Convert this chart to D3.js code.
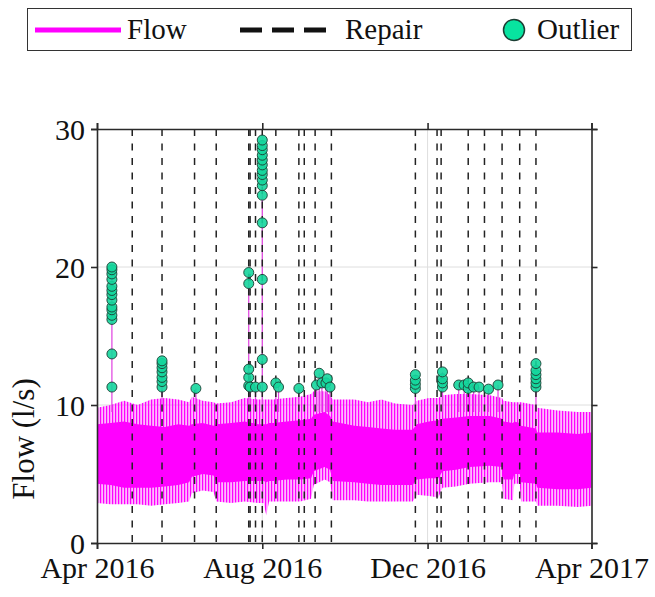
<!DOCTYPE html>
<html>
<head>
<meta charset="utf-8">
<script src="https://cdn.jsdelivr.net/npm/d3@7"></script>
<style>
  body { margin: 0; background: #fff; }
  text { font-family: "Liberation Serif", "Times New Roman", serif; fill: #111; }
</style>
</head>
<body>
<div id="chart"></div>
<script>
// flow envelope (l/s)
var flowDates = ["2016-04-01","2016-04-11","2016-04-21","2016-05-01","2016-05-11","2016-05-21","2016-05-31",
    "2016-06-08","2016-06-10","2016-06-18","2016-06-26","2016-06-28","2016-07-09","2016-07-19","2016-07-29",
    "2016-08-02","2016-08-04","2016-08-06","2016-08-09","2016-08-19","2016-08-29","2016-09-06","2016-09-08",
    "2016-09-16","2016-09-20","2016-09-22","2016-10-08","2016-10-18","2016-10-28","2016-11-07","2016-11-20",
    "2016-11-23","2016-12-02","2016-12-09","2016-12-12","2016-12-22","2017-01-01","2017-01-16","2017-01-25",
    "2017-01-26","2017-02-02","2017-02-03","2017-02-07","2017-02-08","2017-02-19","2017-02-20","2017-03-07",
    "2017-03-22","2017-04-01"];
var flowMin  = [2.9,2.8,2.8,2.8,2.7,2.8,2.9, 3.0,3.6,3.8,3.7,3.0,2.9,3.0,2.9, 2.9,2.0,3.0,3.0,3.0,3.0,3.2,4.2,
    4.6,4.4,3.1,3.1,3.0,3.0,3.0,3.0, 3.5,3.4,3.3,4.0,4.1,4.3,4.4,4.4, 3.2,3.1,4.3,4.3,3.0,3.0,2.7,2.7, 2.6,2.7];
var flowLow  = [4.3,4.2,4.0,4.0,4.0,4.1,4.2, 4.4,4.8,5.0,4.9,4.4,4.4,4.5,4.5, 4.5,4.4,4.5,4.5,4.6,4.6,4.7,5.2,
    5.5,5.3,4.5,4.4,4.3,4.2,4.2,4.2, 4.6,4.7,4.7,5.2,5.3,5.5,5.6,5.5, 4.6,4.6,5.0,5.0,4.4,4.3,4.0,3.9, 3.9,4.0];
var flowHigh = [8.6,8.7,8.8,8.6,8.5,8.4,8.6, 8.5,8.6,8.7,8.5,8.6,8.7,8.8,8.6, 8.6,8.6,8.7,8.7,8.8,8.9,9.0,9.3,
    9.5,9.2,8.8,8.5,8.4,8.3,8.2,8.2, 8.6,8.8,8.9,9.0,9.1,9.2,9.2,9.0, 8.8,8.7,8.8,8.7,8.5,8.3,8.0,8.0, 7.9,8.0];
var flowMax  = [9.8,10.0,10.3,10.0,10.4,10.5,10.4, 10.2,10.6,10.3,10.2,10.1,10.2,10.5,10.4, 10.4,10.4,10.4,10.4,10.5,10.6,10.8,11.0,
    11.0,10.7,10.4,10.4,10.2,10.4,10.1,10.0, 10.3,10.5,10.5,10.7,10.8,10.8,10.7,10.5, 10.3,10.2,10.2,10.2,10.2,10.0,9.8,9.6, 9.5,9.5];

var repairDates = ["2016-04-27","2016-05-19","2016-06-12","2016-06-28","2016-07-22","2016-07-23","2016-07-27",
    "2016-08-01","2016-08-11","2016-08-28","2016-09-01","2016-09-09","2016-09-21","2016-11-22","2016-12-08",
    "2016-12-11","2016-12-31","2017-01-12","2017-01-25","2017-02-07","2017-02-19"];

var outlierDates = [
    "2016-04-12","2016-04-12","2016-04-12","2016-04-12","2016-04-12","2016-04-12","2016-04-12",
    "2016-04-12","2016-04-12","2016-04-12","2016-04-12","2016-04-12","2016-04-12","2016-04-12",
    "2016-05-19","2016-05-19","2016-05-19","2016-05-19","2016-05-19","2016-05-19","2016-05-19",
    "2016-06-13",
    "2016-07-22","2016-07-22","2016-07-22","2016-07-22","2016-07-22","2016-07-23","2016-07-27",
    "2016-08-01","2016-08-01","2016-08-01","2016-08-01","2016-08-01","2016-08-01","2016-08-01","2016-08-01",
    "2016-08-01","2016-08-01","2016-08-01","2016-08-01","2016-08-01","2016-08-01","2016-08-01",
    "2016-08-11","2016-08-13","2016-08-28",
    "2016-09-10","2016-09-12","2016-09-14","2016-09-17","2016-09-18","2016-09-20",
    "2016-11-22","2016-11-22","2016-11-22","2016-11-22",
    "2016-12-12","2016-12-12","2016-12-12","2016-12-12",
    "2016-12-24","2016-12-28","2016-12-31","2016-12-31","2017-01-04","2017-01-08","2017-01-15","2017-01-22",
    "2017-02-19","2017-02-19","2017-02-19","2017-02-19","2017-02-19","2017-02-19"];
var outlierValues = [
    11.3,13.7,16.2,16.5,16.9,17.1,17.6,18.0,18.3,18.6,19.1,19.5,19.8,20.0,
    11.3,11.7,12.0,12.4,12.7,13.0,13.2,
    11.2,
    11.4,12.0,12.6,18.8,19.6,11.3,11.3,
    11.3,13.3,19.1,23.2,25.2,25.9,26.3,26.7,27.0,27.4,27.75,28.1,28.5,28.8,29.2,
    11.6,11.3,11.2,
    11.45,12.3,11.6,11.6,11.9,11.3,
    11.2,11.5,11.8,12.2,
    11.3,11.6,11.9,12.4,
    11.45,11.45,11.2,11.6,11.3,11.3,11.15,11.45,
    11.3,11.6,11.9,12.2,12.5,13.0];

var xTicks = ["2016-04-01","2016-08-01","2016-12-01","2017-04-01"];
var yTicks = [0, 10, 20, 30];

var parse = d3.timeParse("%Y-%m-%d");
var W = 655, H = 597;
var margin = {top: 129, right: 63.5, bottom: 54, left: 97},
    width = W - margin.left - margin.right,
    height = H - margin.top - margin.bottom;

var svg = d3.select("#chart").append("svg")
    .attr("width", W).attr("height", H);

var defs = svg.append("defs");
var pat = defs.append("pattern").attr("id", "stripes")
    .attr("patternUnits", "userSpaceOnUse").attr("width", 3).attr("height", 10);
pat.append("rect").attr("width", 3).attr("height", 10).attr("fill", "rgba(255,0,255,0.28)");
pat.append("rect").attr("width", 1.2).attr("height", 10).attr("fill", "#ff00ff");
defs.append("clipPath").attr("id", "clip").append("rect")
    .attr("width", width).attr("height", height);

var g = svg.append("g")
    .attr("transform", "translate(" + margin.left + "," + margin.top + ")");

var x = d3.scaleTime()
    .domain([parse("2016-04-01"), parse("2017-04-01")])
    .range([0, width]);
var y = d3.scaleLinear().domain([0, 30]).range([height, 0]);

// grid
g.selectAll(".gy").data([10, 20]).enter().append("line")
    .attr("x1", 0).attr("x2", width)
    .attr("y1", function(d) { return y(d); }).attr("y2", function(d) { return y(d); })
    .attr("stroke", "#dedede").attr("stroke-width", 1);
g.selectAll(".gx").data(xTicks.slice(1, 3)).enter().append("line")
    .attr("x1", function(d) { return x(parse(d)); }).attr("x2", function(d) { return x(parse(d)); })
    .attr("y1", 0).attr("y2", height)
    .attr("stroke", "#dedede").attr("stroke-width", 1);

var flowData = flowDates.map(function(d, i) {
    return {date: parse(d), min: flowMin[i], low: flowLow[i], high: flowHigh[i], max: flowMax[i]};
});

var plot = g.append("g").attr("clip-path", "url(#clip)");

plot.append("path").datum(flowData)
    .attr("fill", "url(#stripes)")
    .attr("d", d3.area()
        .x(function(d) { return x(d.date); })
        .y0(function(d) { return y(d.min); })
        .y1(function(d) { return y(d.max); }));
plot.append("path").datum(flowData)
    .attr("fill", "#ff00ff")
    .attr("d", d3.area()
        .x(function(d) { return x(d.date); })
        .y0(function(d) { return y(d.low); })
        .y1(function(d) { return y(d.high); }));

var outliers = outlierDates.map(function(d, i) { return {date: parse(d), value: outlierValues[i]}; });

// flow spikes that reach the outliers
var spikes = d3.rollups(outliers, function(v) { return d3.max(v, function(d) { return d.value; }); },
    function(d) { return +d.date; });
plot.selectAll(".spike").data(spikes).enter().append("line")
    .attr("x1", function(d) { return x(new Date(d[0])); })
    .attr("x2", function(d) { return x(new Date(d[0])); })
    .attr("y1", y(9.5))
    .attr("y2", function(d) { return y(d[1]); })
    .attr("stroke", "#e040e0").attr("stroke-width", 1.2);

// repair lines
plot.selectAll(".repair").data(repairDates).enter().append("line")
    .attr("x1", function(d) { return x(parse(d)); })
    .attr("x2", function(d) { return x(parse(d)); })
    .attr("y1", 0).attr("y2", height)
    .attr("stroke", "#222").attr("stroke-width", 1.5)
    .attr("stroke-dasharray", "7,7.5");

g.selectAll(".outlier").data(outliers).enter().append("circle")
    .attr("cx", function(d) { return x(d.date); })
    .attr("cy", function(d) { return y(d.value); })
    .attr("r", 5)
    .attr("fill", "#14d69c").attr("fill-opacity", 0.9)
    .attr("stroke", "#1c3d33").attr("stroke-width", 0.9);

// axes box
var fmt = d3.timeFormat("%b %Y");
var xAxis = g.append("g").attr("transform", "translate(0," + height + ")")
    .call(d3.axisBottom(x).tickValues(xTicks.map(parse)).tickFormat(fmt).tickSizeOuter(0).tickSize(6).tickPadding(8));
var xTop = g.append("g")
    .call(d3.axisTop(x).tickValues(xTicks.map(parse)).tickFormat("").tickSizeOuter(0).tickSize(6));
var yAxis = g.append("g")
    .call(d3.axisLeft(y).tickValues(yTicks).tickSizeOuter(0).tickSize(6).tickPadding(6));
var yRight = g.append("g").attr("transform", "translate(" + width + ",0)")
    .call(d3.axisRight(y).tickValues(yTicks).tickFormat("").tickSizeOuter(0).tickSize(6));

[xAxis, xTop, yAxis, yRight].forEach(function(a) {
    a.select(".domain").attr("stroke", "#2a2a2a").attr("stroke-width", 1.6);
    a.selectAll(".tick line").attr("stroke", "#2a2a2a").attr("stroke-width", 1.6);
    a.selectAll("text").style("font-family", "Liberation Serif, serif").style("font-size", "30px").attr("fill", "#111");
});
yAxis.selectAll("text").attr("dy", "0.35em");

g.append("text")
    .attr("transform", "rotate(-90)")
    .attr("x", -(y(10) + 34))
    .attr("y", -63)
    .style("text-anchor", "middle")
    .style("font-size", "31px")
    .text("Flow (l/s)");

// legend
var leg = svg.append("g");
leg.append("rect").attr("x", 27.5).attr("y", 8.5).attr("width", 604).attr("height", 42)
    .attr("fill", "#fff").attr("stroke", "#333").attr("stroke-width", 1);
leg.append("line").attr("x1", 35).attr("x2", 121).attr("y1", 30).attr("y2", 30)
    .attr("stroke", "#ff00ff").attr("stroke-width", 5);
leg.append("text").attr("x", 127).attr("y", 39).style("font-size", "29px").text("Flow");
leg.append("line").attr("x1", 240).attr("x2", 332).attr("y1", 30).attr("y2", 30)
    .attr("stroke", "#111").attr("stroke-width", 5).attr("stroke-dasharray", "22,10");
leg.append("text").attr("x", 345).attr("y", 39).style("font-size", "29px").text("Repair");
leg.append("circle").attr("cx", 514).attr("cy", 30).attr("r", 10.5)
    .attr("fill", "#08e3a0").attr("stroke", "#1c3d33").attr("stroke-width", 1.5);
leg.append("text").attr("x", 537).attr("y", 39).style("font-size", "29px").text("Outlier");
</script>
</body>
</html>
